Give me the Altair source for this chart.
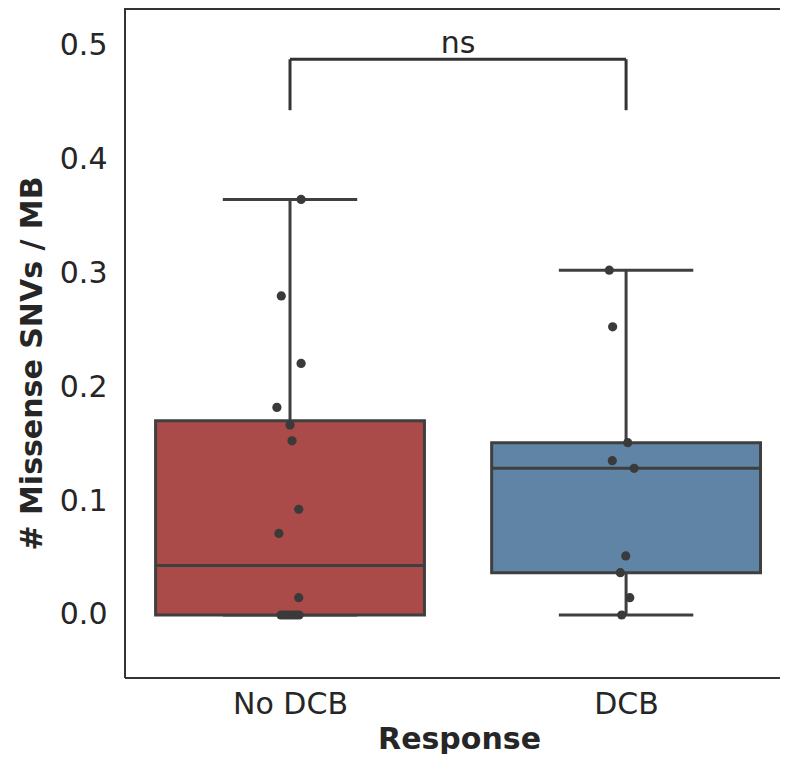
import altair as alt
import numpy as np
import pandas as pd

# ---- data ----
groups = ["No DCB", "DCB"]
no_dcb_values = [0.3647, 0.280, 0.2208, 0.1822, 0.1667, 0.1529, 0.0927, 0.0716, 0.0152,
                 0.0, 0.0, 0.0, 0.0, 0.0, 0.0, 0.0]
no_dcb_jitter = [0.033, -0.026, 0.033, -0.039, 0.0, 0.006, 0.026, -0.033, 0.026,
                 -0.027, -0.018, -0.009, 0.0, 0.009, 0.018, 0.027]
dcb_values = [0.3026, 0.2529, 0.1512, 0.1354, 0.1287, 0.0518, 0.0371, 0.0152, 0.0]
dcb_jitter = [-0.050, -0.040, 0.005, -0.041, 0.024, -0.001, -0.017, 0.011, -0.013]
box_colors = ["#aa4b4a", "#6084a6"]
y_ticks = [0.0, 0.1, 0.2, 0.3, 0.4, 0.5]
bracket_y = [0.443, 0.4877]
sig_label = "ns"

FONT = "DejaVu Sans"
LINE = "#3f3f3f"
TXT = "#262626"
FRAME = "#333333"
BOX_HALF = 0.4
CAP_HALF = 0.2
W, H = 655, 670

# ---- tables ----
pts = []
stats = []
for i, (vals, jit) in enumerate([(no_dcb_values, no_dcb_jitter), (dcb_values, dcb_jitter)]):
    for v, j in zip(vals, jit):
        pts.append({"group": groups[i], "x": i + j, "value": v})
    q1, med, q3 = np.percentile(vals, [25, 50, 75])
    iqr = q3 - q1
    hi = max(v for v in vals if v <= q3 + 1.5 * iqr)
    lo = min(v for v in vals if v >= q1 - 1.5 * iqr)
    stats.append({"group": groups[i], "pos": i, "left": i - BOX_HALF, "right": i + BOX_HALF,
                  "cl": i - CAP_HALF, "cr": i + CAP_HALF,
                  "q1": q1, "med": med, "q3": q3, "lo": lo, "hi": hi, "color": box_colors[i]})
pts = pd.DataFrame(pts)
stats = pd.DataFrame(stats)

bracket = pd.DataFrame([
    {"x": 0, "x2": 0, "y": bracket_y[0], "y2": bracket_y[1]},
    {"x": 1, "x2": 1, "y": bracket_y[0], "y2": bracket_y[1]},
    {"x": 0, "x2": 1, "y": bracket_y[1], "y2": bracket_y[1]},
])
label_df = pd.DataFrame([{"x": 0.5, "y": bracket_y[1] + 0.0055, "t": sig_label}])

xs = alt.Scale(domain=[-0.491, 1.458], nice=False, zero=False)
ys = alt.Scale(domain=[-0.0553, 0.5327], nice=False, zero=False)

label_expr = f"datum.value == 0 ? '{groups[0]}' : '{groups[1]}'"
xaxis = alt.Axis(title="Response", values=[0, 1], labelExpr=label_expr, grid=False, ticks=False,
                 domain=False, labelFont=FONT, labelFontSize=30, labelColor=TXT,
                 labelPadding=35, labelBaseline="alphabetic", labelFlush=False, labelOverlap=False,
                 titleFont=FONT, titleFontSize=30, titleFontWeight="bold", titleColor=TXT,
                 titleX=334, titleY=70, titleBaseline="alphabetic", titleAlign="center")
yaxis = alt.Axis(title="# Missense SNVs / MB", values=y_ticks, format=".1f", grid=False, ticks=False,
                 domain=False, labelFont=FONT, labelFontSize=30, labelColor=TXT,
                 labelPadding=18, labelFlush=False, labelOverlap=False,
                 titleFont=FONT, titleFontSize=30, titleFontWeight="bold", titleColor=TXT,
                 titleX=-78, titleY=355, titleAngle=270, titleBaseline="bottom", titleAlign="center")


def X(field):
    return alt.X(field, type="quantitative", scale=xs, axis=xaxis)


def Y(field):
    return alt.Y(field, type="quantitative", scale=ys, axis=yaxis)


base = alt.Chart(stats)

upper_whisker = base.mark_rule(color=LINE, strokeWidth=3).encode(x=X("pos"), y=Y("q3"), y2="hi")
lower_whisker = base.mark_rule(color=LINE, strokeWidth=3).encode(x=X("pos"), y=Y("lo"), y2="q1")
cap_hi = base.mark_rule(color=LINE, strokeWidth=3).encode(x=X("cl"), x2="cr", y=Y("hi"))
cap_lo = base.mark_rule(color=LINE, strokeWidth=3).encode(x=X("cl"), x2="cr", y=Y("lo"))
boxes = base.mark_rect(stroke=LINE, strokeWidth=3).encode(
    x=X("left"), x2="right", y=Y("q1"), y2="q3",
    fill=alt.Fill("color:N", scale=None, legend=None))
medians = base.mark_rule(color=LINE, strokeWidth=3).encode(x=X("left"), x2="right", y=Y("med"))

points = alt.Chart(pts).mark_circle(size=85, color="#3a3a3a", opacity=1).encode(
    x=X("x"), y=Y("value"))

brk = alt.Chart(bracket).mark_rule(color=FRAME, strokeWidth=3).encode(
    x=X("x"), x2="x2", y=Y("y"), y2="y2")
txt = alt.Chart(label_df).mark_text(font=FONT, fontSize=30, color=TXT, align="center",
                                    baseline="alphabetic").encode(x=X("x"), y=Y("y"), text="t:N")

# axes frame (left, top, bottom spines; the right spine lies outside the picture)
frame_top = alt.Chart(stats).mark_rule(color=FRAME, strokeWidth=2).encode(
    x=alt.value(0), x2=alt.value(W), y=alt.value(1))
frame_bottom = alt.Chart(stats).mark_rule(color=FRAME, strokeWidth=2).encode(
    x=alt.value(0), x2=alt.value(W), y=alt.value(H))
frame_left = alt.Chart(stats).mark_rule(color=FRAME, strokeWidth=2).encode(
    x=alt.value(0), y=alt.value(0), y2=alt.value(H))

chart = alt.layer(upper_whisker, lower_whisker, cap_hi, cap_lo, boxes, medians, points, brk, txt,
                  frame_top, frame_bottom, frame_left).properties(
    width=W, height=H,
    padding={"left": 117, "top": 0, "right": 0, "bottom": 76},
    autosize=alt.AutoSizeParams(type="none"),
    background="white",
).configure_view(stroke=None)

chart.save("out.html", embed_options={"renderer": "svg", "actions": False})
